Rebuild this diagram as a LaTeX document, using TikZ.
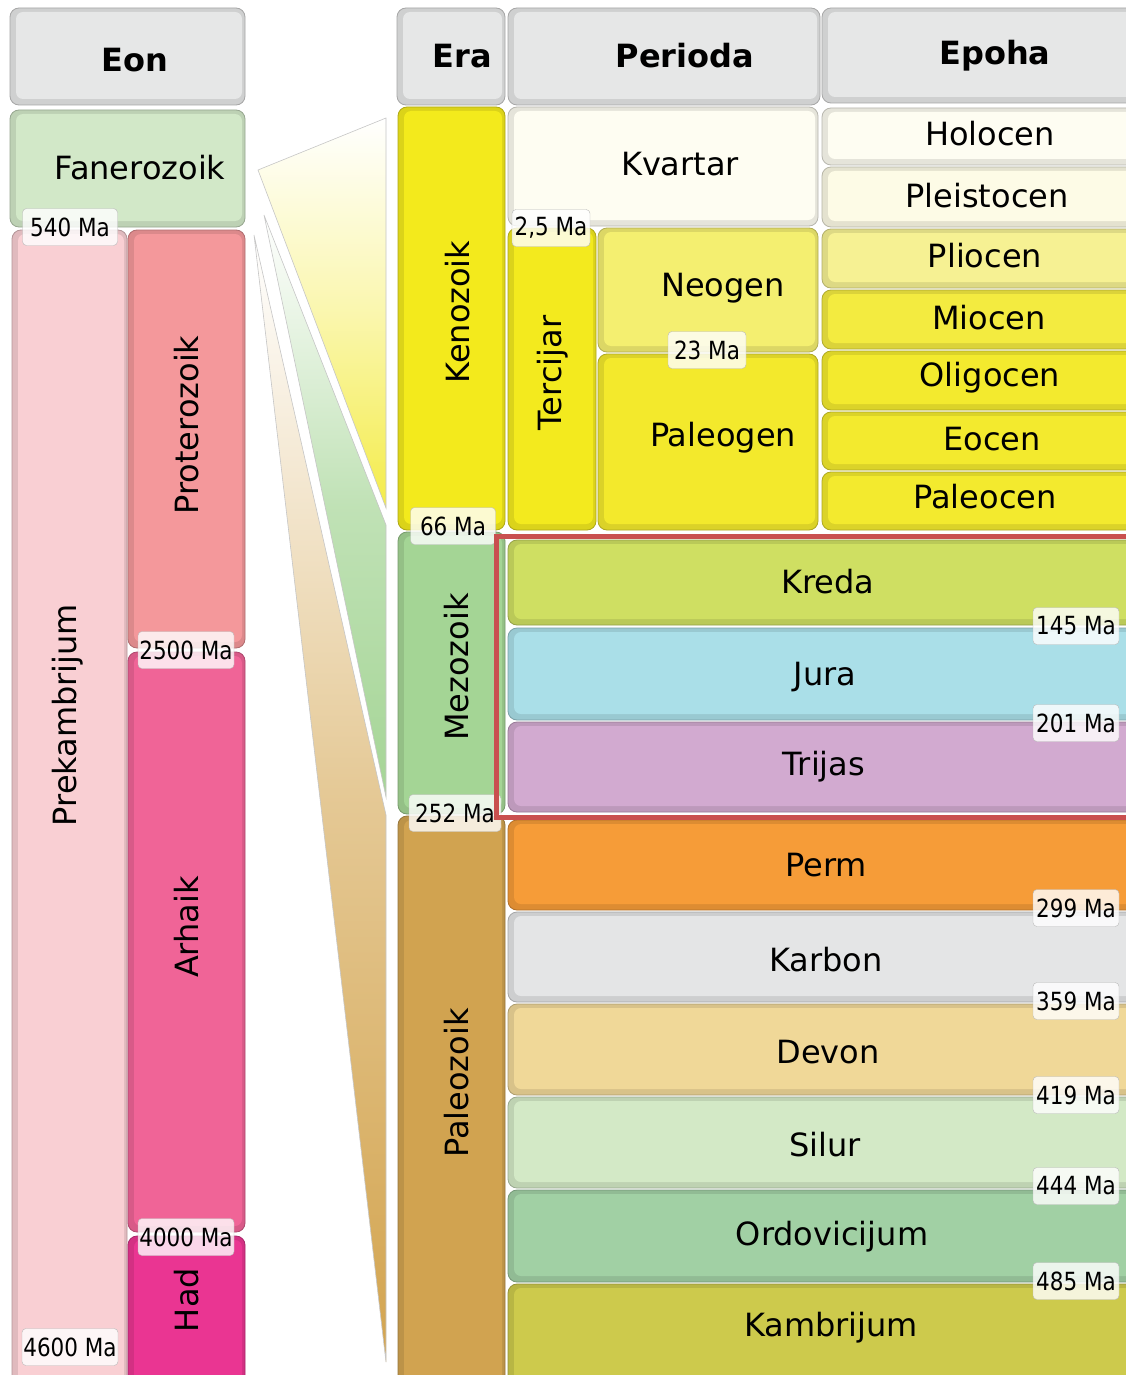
\documentclass[tikz,border=0pt]{standalone}
\usepackage{fontspec}
\setmainfont{DejaVu Sans}
\newfontfamily\condfont[FakeStretch=0.86]{DejaVu Sans}
\definecolor{hdr}{HTML}{E6E7E7}
\definecolor{fan}{HTML}{D2E8C8}
\definecolor{pre}{HTML}{F9CFD3}
\definecolor{pro}{HTML}{F4989B}
\definecolor{arh}{HTML}{F06497}
\definecolor{had}{HTML}{EA3592}
\definecolor{keno}{HTML}{F3EA1C}
\definecolor{mezo}{HTML}{A4D595}
\definecolor{paleo}{HTML}{D1A350}
\definecolor{kvar}{HTML}{FEFDF2}
\definecolor{terc}{HTML}{F3EA1E}
\definecolor{neog}{HTML}{F4EF70}
\definecolor{paleog}{HTML}{F3E92C}
\definecolor{holo}{HTML}{FEFDF2}
\definecolor{pleis}{HTML}{FDFBE6}
\definecolor{plio}{HTML}{F6F193}
\definecolor{mioc}{HTML}{F3EB40}
\definecolor{olig}{HTML}{F3EA2E}
\definecolor{kreda}{HTML}{CFDF62}
\definecolor{jura}{HTML}{AADFE8}
\definecolor{trij}{HTML}{D2AAD0}
\definecolor{perm}{HTML}{F69C38}
\definecolor{karb}{HTML}{E4E5E6}
\definecolor{devon}{HTML}{F0D898}
\definecolor{silur}{HTML}{D3E9C6}
\definecolor{ordo}{HTML}{A1D0A4}
\definecolor{kamb}{HTML}{CDCA4C}
\definecolor{frame}{HTML}{C9504F}
\definecolor{wyel}{HTML}{F4EC4A}
\definecolor{wgrn}{HTML}{A5D596}
\definecolor{wtan}{HTML}{D3A44E}
\tikzset{
  blk/.style={draw=#1!72!black, fill=#1!90!black, rounded corners=9pt, line width=0.8pt, inner sep=0pt,
    path picture={\fill[#1, rounded corners=7pt] ([xshift=6pt,yshift=-4pt]path picture bounding box.north west) rectangle ([xshift=-3pt,yshift=6pt]path picture bounding box.south east);}},
  txt/.style={font=\fontsize{32}{38}\selectfont, inner sep=0pt},
  htxt/.style={font=\fontsize{32}{38}\selectfont\bfseries, inner sep=0pt},
  ma/.style={draw=gray!55, fill=white, fill opacity=0.8, text opacity=1, rounded corners=4pt,
    font=\condfont\fontsize{25}{29}\selectfont, inner sep=0pt, minimum height=37pt, minimum width=#1},
  ma/.default=86pt,
  wedge/.style={draw=gray!45, line width=0.6pt}
}
\newcommand\blkat[6]{\node[blk=#2, minimum width={(#5-#3)*1pt}, minimum height={(#6-#4)*1pt}] (#1) at ({(#3+#5)/2},{(#4+#6)/2}) {};}
\begin{document}
\begin{tikzpicture}[x=1pt,y=-1pt]
\useasboundingbox (0,0) rectangle (1126,1375);
\clip (0,0) rectangle (1126,1375);
\fill[white] (0,0) rectangle (1126,1375);
% wedges
\shade[wedge, top color=white, bottom color=wyel, middle color=wyel!45] (258,170) -- (386,118) -- (386,508) -- cycle;
\shade[wedge, top color=white, bottom color=wgrn, middle color=wgrn!70] (264,215) -- (386,525) -- (386,797) -- cycle;
\shade[wedge, top color=white, bottom color=wtan, middle color=wtan!60] (254,235) -- (386,815) -- (386,1362) -- cycle;
% Eon column
\blkat{heon}{hdr}{10}{8}{245}{105}
\blkat{fan}{fan}{10}{110}{245}{227}
\blkat{pre}{pre}{12}{230}{127}{1395}
\blkat{pro}{pro}{128}{230}{245}{648}
\blkat{arh}{arh}{128}{652}{245}{1232}
\blkat{had}{had}{128}{1236}{245}{1395}
% Era column
\blkat{hera}{hdr}{397}{8}{505}{105}
\blkat{keno}{keno}{398}{107}{505}{530}
\blkat{mezo}{mezo}{398}{532}{505}{814}
\blkat{paleo}{paleo}{398}{816}{505}{1395}
% Period column
\blkat{hper}{hdr}{508}{8}{820}{105}
\blkat{kvar}{kvar}{508}{107}{818}{226}
\blkat{terc}{terc}{508}{228}{596}{530}
\blkat{neog}{neog}{598}{228}{818}{352}
\blkat{paleog}{paleog}{598}{354}{818}{530}
% Epoch column
\blkat{hepo}{hdr}{822}{8}{1145}{103}
\blkat{holo}{holo}{822}{108}{1145}{165}
\blkat{pleis}{pleis}{822}{167}{1145}{227}
\blkat{plio}{plio}{822}{229}{1145}{288}
\blkat{mioc}{mioc}{822}{290}{1145}{349}
\blkat{olig}{olig}{822}{351}{1145}{410}
\blkat{eoc}{olig}{822}{412}{1145}{470}
\blkat{paleoc}{olig}{822}{472}{1145}{530}
% long periods
\blkat{kreda}{kreda}{508}{540}{1145}{625}
\blkat{jura}{jura}{508}{628}{1145}{720}
\blkat{trij}{trij}{508}{722}{1145}{812}
\blkat{perm}{perm}{508}{820}{1145}{910}
\blkat{karb}{karb}{508}{912}{1145}{1002}
\blkat{devon}{devon}{508}{1004}{1145}{1095}
\blkat{silur}{silur}{508}{1097}{1145}{1188}
\blkat{ordo}{ordo}{508}{1190}{1145}{1282}
\blkat{kamb}{kamb}{508}{1284}{1145}{1395}
% texts
\node[htxt] (t-eon) at (135,60) {Eon};
\node[htxt] (t-era) at (462,56) {Era};
\node[htxt] (t-per) at (685,56) {Perioda};
\node[htxt] (t-epo) at (995,56) {Epoha};
\node[txt] (t-fan) at (140,168) {Fanerozoik};
\node[txt, rotate=90] (t-pre) at (68,715) {Prekambrijum};
\node[txt, rotate=90] (t-pro) at (187,425) {Proterozoik};
\node[txt, rotate=90] (t-arh) at (187,927) {Arhaik};
\node[txt, rotate=90] (t-had) at (187,1300) {Had};
\node[txt, rotate=90] (t-keno) at (458,312) {Kenozoik};
\node[txt, rotate=90] (t-mezo) at (457,667) {Mezozoik};
\node[txt, rotate=90] (t-paleo) at (457,1083) {Paleozoik};
\node[txt, rotate=90] (t-terc) at (553,373) {Tercijar};
\node[txt] (t-kvar) at (680,164) {Kvartar};
\node[txt] (t-neog) at (723,288) {Neogen};
\node[txt] (t-paleog) at (723,438) {Paleogen};
\node[txt] (t-holo) at (990,134) {Holocen};
\node[txt] (t-pleis) at (987,196) {Pleistocen};
\node[txt] (t-plio) at (985,256) {Pliocen};
\node[txt] (t-mioc) at (989,318) {Miocen};
\node[txt] (t-olig) at (990,378) {Oligocen};
\node[txt] (t-eoc) at (992,439) {Eocen};
\node[txt] (t-paleoc) at (985,497) {Paleocen};
\node[txt] (t-kreda) at (828,582) {Kreda};
\node[txt] (t-jura) at (825,677) {Jura};
\node[txt] (t-trij) at (824,767) {Trijas};
\node[txt] (t-perm) at (826,865) {Perm};
\node[txt] (t-karb) at (826,960) {Karbon};
\node[txt] (t-devon) at (828,1052) {Devon};
\node[txt] (t-silur) at (825,1145) {Silur};
\node[txt] (t-ordo) at (832,1237) {Ordovicijum};
\node[txt] (t-kamb) at (831,1328) {Kambrijum};
% Ma labels
\node[ma=95pt] (m540) at (70,227) {540 Ma};
\node[ma=96pt] (m2500) at (186,650) {2500 Ma};
\node[ma=96pt] (m4000) at (186,1237) {4000 Ma};
\node[ma=96pt] (m4600) at (70,1347) {4600 Ma};
\node[ma=85pt] (m66) at (453,526) {66 Ma};
\node[ma=92pt] (m252) at (455,813) {252 Ma};
\node[ma=78pt] (m25) at (551,228) {2,5 Ma};
\node[ma=78pt] (m23) at (707,350) {23 Ma};
\node[ma] (m145) at (1076,626) {145 Ma};
\node[ma] (m201) at (1076,723) {201 Ma};
\node[ma] (m299) at (1076,908) {299 Ma};
\node[ma] (m359) at (1076,1001) {359 Ma};
\node[ma] (m419) at (1076,1095) {419 Ma};
\node[ma] (m444) at (1076,1186) {444 Ma};
\node[ma] (m485) at (1076,1281) {485 Ma};
% red frame
\node[draw=frame, line width=5pt, minimum width=640pt, minimum height=281pt, inner sep=0pt] (mezoframe) at (816,677) {};
\end{tikzpicture}
\end{document}
